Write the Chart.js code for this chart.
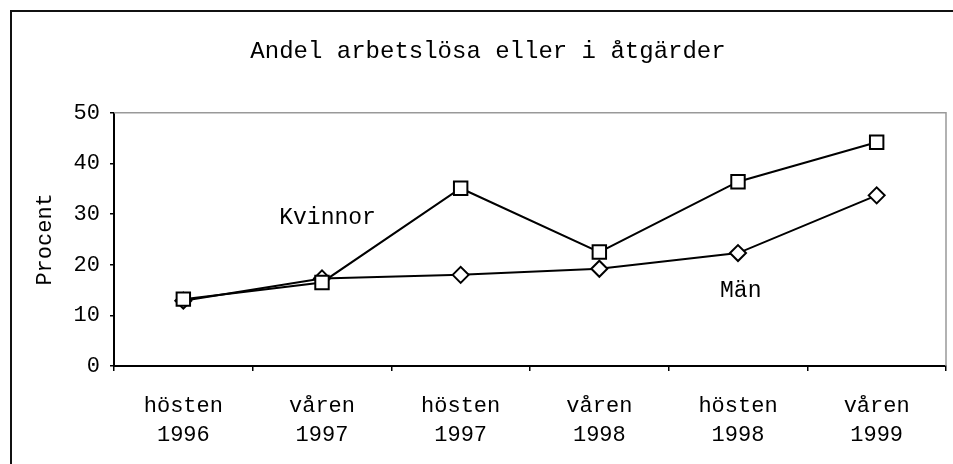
<!DOCTYPE html>
<html>
<head>
<meta charset="utf-8">
<script src="https://cdn.jsdelivr.net/npm/chart.js@4"></script>
<style>
  body { margin: 0; background: #fff; }
  #wrap { width: 953px; height: 464px; position: relative; }
</style>
</head>
<body>
<div id="wrap"><canvas id="chart"></canvas></div>
<script>
// categories and values
const categories = [
  ["hösten", "1996"], ["våren", "1997"], ["hösten", "1997"],
  ["våren", "1998"], ["hösten", "1998"], ["våren", "1999"]
];
const kvinnor = [13.2, 16.5, 35.1, 22.5, 36.4, 44.2];
const man = [12.9, 17.3, 18.0, 19.2, 22.3, 33.7];
const yMin = 0;
const yMax = 50;
const yStep = 10;

const chartTitle = "Andel arbetslösa eller i åtgärder";
const yTitle = "Procent";
const seriesNames = ["Kvinnor", "Män"];

const FONT = "'Liberation Mono', 'Courier New', monospace";

// frame, plot border and the two series names
const extras = {
  id: "extras",
  beforeDatasetsDraw(chart) {
    const { ctx, chartArea: a } = chart;
    ctx.save();
    ctx.strokeStyle = "#999";
    ctx.lineWidth = 1.5;
    ctx.beginPath();
    ctx.moveTo(a.left, a.top);
    ctx.lineTo(a.right, a.top);
    ctx.lineTo(a.right, a.bottom);
    ctx.stroke();
    ctx.restore();
  },
  afterDraw(chart) {
    const { ctx, scales } = chart;
    ctx.save();
    // outer frame
    ctx.strokeStyle = "#111";
    ctx.lineWidth = 2;
    ctx.beginPath();
    ctx.moveTo(11, 464);
    ctx.lineTo(11, 11);
    ctx.lineTo(953, 11);
    ctx.stroke();
    // series names
    ctx.fillStyle = "#000";
    ctx.font = "23px " + FONT;
    ctx.textAlign = "center";
    ctx.textBaseline = "middle";
    ctx.fillText(seriesNames[0], scales.x.getPixelForValue(1.04), scales.y.getPixelForValue(29.2));
    ctx.fillText(seriesNames[1], scales.x.getPixelForValue(4.02), scales.y.getPixelForValue(14.8));
    ctx.restore();
  }
};

const ctx = document.getElementById("chart").getContext("2d");
const chart = new Chart(ctx, {
  type: "line",
  data: {
    labels: categories,
    datasets: [
      {
        label: seriesNames[0],
        data: kvinnor,
        borderColor: "#000",
        borderWidth: 2,
        pointStyle: "rect",
        pointRadius: 9.5,
        pointBackgroundColor: "#fff",
        pointBorderColor: "#000",
        pointBorderWidth: 2,
        tension: 0
      },
      {
        label: seriesNames[1],
        data: man,
        borderColor: "#000",
        borderWidth: 2,
        pointStyle: "rectRot",
        pointRadius: 8,
        pointBackgroundColor: "#fff",
        pointBorderColor: "#000",
        pointBorderWidth: 2,
        tension: 0
      }
    ]
  },
  options: {
    responsive: true,
    maintainAspectRatio: false,
    animation: false,
    layout: { autoPadding: false, padding: { left: 30, right: 7, top: 0, bottom: 0 } },
    plugins: {
      legend: { display: false },
      tooltip: { enabled: false },
      title: {
        display: true,
        text: chartTitle,
        color: "#000",
        font: { family: FONT, size: 24, weight: "normal" },
        padding: { top: 37, bottom: 47 }
      }
    },
    scales: {
      x: {
        offset: true,
        grid: {
          offset: true,
          drawOnChartArea: false,
          drawTicks: true,
          tickLength: 5,
          color: "#000",
          lineWidth: 1.5
        },
        border: { color: "#000", width: 2 },
        ticks: {
          color: "#000",
          padding: 21,
          maxRotation: 0,
          font: { family: FONT, size: 22, lineHeight: 1.3 }
        },
        afterFit(scale) {
          scale.height = 98;
          scale.paddingLeft = 0;
          scale.paddingRight = 0;
        }
      },
      y: {
        min: yMin,
        max: yMax,
        grid: {
          drawOnChartArea: false,
          drawTicks: true,
          tickLength: 4,
          color: "#000",
          lineWidth: 1.5
        },
        border: { color: "#000", width: 2 },
        ticks: {
          stepSize: yStep,
          color: "#000",
          padding: 10,
          font: { family: FONT, size: 22 }
        },
        title: {
          display: true,
          text: yTitle,
          color: "#000",
          padding: { top: 2, bottom: 0 },
          font: { family: FONT, size: 22 }
        },
        afterFit(scale) { scale.width = 84; }
      }
    }
  },
  plugins: [extras]
});
</script>
</body>
</html>
